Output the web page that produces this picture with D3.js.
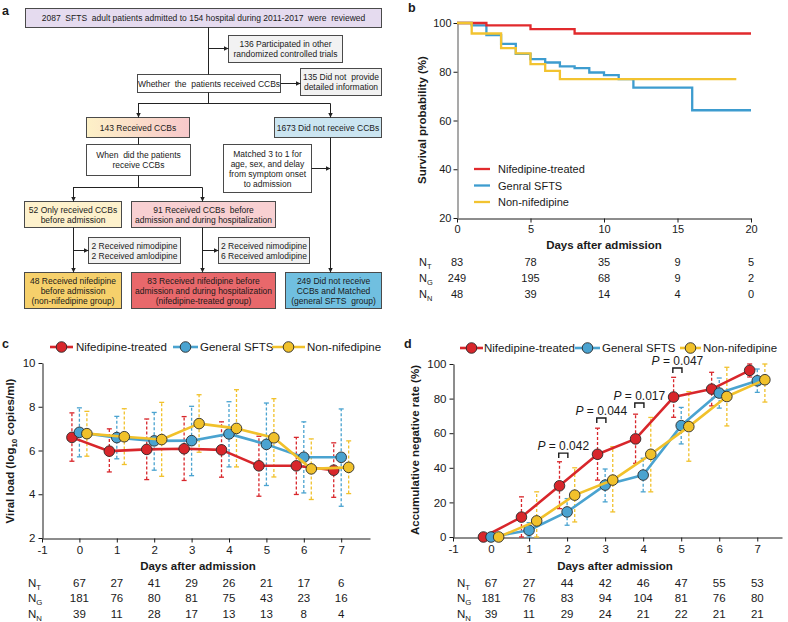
<!DOCTYPE html>
<html><head><meta charset="utf-8">
<script src="https://cdn.jsdelivr.net/npm/d3@7"></script>
<style>
body{margin:0;background:#fff}
svg{display:block}
text{font-family:"Liberation Sans",Arial,Helvetica,sans-serif;fill:#1a1a1a}
</style>
</head><body>
<svg id="fig" width="788" height="622"></svg>
<script>
// ================= DATA =================
const seriesNames = ["Nifedipine-treated", "General SFTS", "Non-nifedipine"];
const seriesNamesB = ["Nifedipine-treated", "Genral SFTS", "Non-nifedipine"];

// Panel b : Kaplan-Meier survival (%)
const kmTimesT = [0, 2, 5, 8, 20];
const kmSurvT  = [100, 99, 97.5, 95.7, 95.7];
const kmTimesG = [0, 1, 2, 3, 4, 5, 6, 7, 8, 9, 10, 11, 12, 16, 20];
const kmSurvG  = [100, 99, 95, 91.4, 87.3, 85.2, 83.8, 82.2, 81.5, 79.7, 78.6, 77, 73.5, 64.2, 64.2];
const kmTimesN = [0, 1, 3, 4, 5, 6, 7, 19];
const kmSurvN  = [100, 95.7, 89.7, 87.5, 83.1, 80.4, 77, 77];
const riskDaysB = [0, 5, 10, 15, 20];
const riskB_T = [83, 78, 35, 9, 5];
const riskB_G = [249, 195, 68, 9, 2];
const riskB_N = [48, 39, 14, 4, 0];

// Panel c : viral load (log10 copies/ml)
const days = [0, 1, 2, 3, 4, 5, 6, 7];
const vlT   = [6.60, 5.97, 6.05, 6.08, 6.03, 5.30, 5.30, 5.10];
const vlTlo = [5.51, 5.02, 4.67, 4.63, 4.78, 3.91, 3.99, 3.86];
const vlThi = [7.72, 6.99, 7.44, 7.55, 7.31, 6.65, 6.60, 6.35];
const vlG   = [6.83, 6.59, 6.44, 6.45, 6.76, 6.28, 5.69, 5.69];
const vlGlo = [5.71, 5.62, 5.10, 4.85, 5.25, 4.40, 4.06, 3.45];
const vlGhi = [7.95, 7.56, 7.74, 8.02, 8.23, 8.17, 7.31, 7.90];
const vlN   = [6.77, 6.63, 6.50, 7.23, 7.01, 6.58, 5.16, 5.23];
const vlNlo = [5.74, 5.36, 4.82, 5.92, 5.25, 4.79, 3.76, 4.03];
const vlNhi = [7.79, 7.91, 8.20, 8.55, 8.78, 8.37, 6.53, 6.44];
const riskC_T = [67, 27, 41, 29, 26, 21, 17, 6];
const riskC_G = [181, 76, 80, 81, 75, 43, 23, 16];
const riskC_N = [39, 11, 28, 17, 13, 13, 8, 4];

// Panel d : accumulative negative rate (%)
const negT   = [0, 11.5, 29.6, 47.8, 56.7, 80.9, 85.5, 96.3];
const negTlo = [0, 0, 16.4, 32.9, 42.6, 69.2, 75.8, 92.5];
const negThi = [0, 23.2, 43.5, 62.9, 71.0, 92.3, 95.2, 100];
const negG   = [0, 3.9, 14.5, 30.0, 35.8, 64.4, 83.2, 90.3];
const negGlo = [0, 0, 6.8, 20.3, 26.1, 53.8, 74.5, 83.6];
const negGhi = [0, 8.3, 22.2, 39.3, 45.5, 74.9, 91.9, 97.1];
const negN   = [0, 9.3, 24.2, 32.9, 47.8, 63.8, 81.2, 90.9];
const negNlo = [0, 0, 8.7, 14.5, 26.1, 43.8, 64.2, 78.0];
const negNhi = [0, 26.1, 40.0, 52.2, 69.1, 84.0, 98.1, 100];
const riskD_T = [67, 27, 44, 42, 46, 47, 55, 53];
const riskD_G = [181, 76, 83, 94, 104, 81, 76, 80];
const riskD_N = [39, 11, 29, 24, 21, 22, 21, 21];
const pDays   = [2, 3, 4, 5];
const pValues = ["0.042", "0.044", "0.017", "0.047"];
const pLevel  = [48.5, 68.8, 77.5, 97.7];

// Panel a : flowchart texts
const flowTexts = [
  ["2087  SFTS  adult patients admitted to 154 hospital during 2011-2017  were  reviewed"],
  ["136 Participated in other", "randomized controlled trials"],
  ["Whether  the  patients received CCBs"],
  ["135 Did not  provide", "detailed information"],
  ["143 Received CCBs"],
  ["1673 Did not receive CCBs"],
  ["When  did the patients", "receive CCBs"],
  ["Matched 3 to 1 for", "age, sex, and delay", "from symptom onset", "to admission"],
  ["52 Only received CCBs", "before admission"],
  ["91 Received CCBs  before", "admission and during hospitalization"],
  ["2 Received nimodipine", "2 Received amlodipine"],
  ["2 Received nimodipine", "6 Received amlodipine"],
  ["48 Received nifedipine", "before admission", "(non-nifedipine group)"],
  ["83 Received nifedipine before", "admission and during hospitalization", "(nifedipine-treated group)"],
  ["249 Did not receive", "CCBs and Matched", "(general SFTS  group)"]
];

// ================= STYLE =================
const COL = ["#d8262b", "#4aa3d0", "#f1c12b"];
const COLB = ["#e12a2d", "#3d9ccf", "#f2c330"];
const svg = d3.select("#fig");
const defs = svg.append("defs");

defs.append("marker").attr("id", "arr").attr("viewBox", "0 0 10 10")
  .attr("refX", 10).attr("refY", 5).attr("markerWidth", 5).attr("markerHeight", 5)
  .attr("markerUnits", "userSpaceOnUse").attr("orient", "auto")
  .append("path").attr("d", "M0,0L10,5L0,10Z").attr("fill", "#222");

const grad = defs.append("linearGradient").attr("id", "g143");
grad.append("stop").attr("offset", "0%").attr("stop-color", "#fdf1c7");
grad.append("stop").attr("offset", "100%").attr("stop-color", "#f8c8cb");

function panelLabel(x, y, t) {
  svg.append("text").attr("x", x).attr("y", y).attr("font-size", 12.5)
    .attr("font-weight", "bold").text(t);
}
panelLabel(2, 15, "a"); panelLabel(408, 12, "b"); panelLabel(2, 348, "c"); panelLabel(404, 348, "d");

// ================= PANEL A (flowchart) =================
const fa = svg.append("g").attr("font-size", 8.5);
const boxLayout = [
  [25, 8, 356, 19, "#e5dbef"],
  [228, 35, 114, 27, "#f2f2f2"],
  [137, 74, 143, 18, "#ffffff"],
  [300, 68, 81, 27, "#f2f2f2"],
  [86, 117, 103, 20, "url(#g143)"],
  [274, 117, 107, 20, "#cbe5f1"],
  [86, 144, 104, 31, "#ffffff"],
  [223, 144, 88, 48, "#ffffff"],
  [24, 201, 97, 26, "#fdf1cc"],
  [131, 201, 144, 26, "#f8d0d2"],
  [88, 237, 92, 26, "#f2f2f2"],
  [218, 237, 91, 26, "#f2f2f2"],
  [24, 272, 97, 36, "#f6d06b"],
  [131, 272, 144, 36, "#e8686b"],
  [285, 272, 96, 36, "#70bfe0"]
];
boxLayout.forEach((b, i) => {
  const [x, y, w, h, fill] = b;
  fa.append("rect").attr("x", x + 0.5).attr("y", y + 0.5).attr("width", w).attr("height", h)
    .attr("fill", fill).attr("stroke", "#4a4a4a").attr("stroke-width", 1);
  const lines = flowTexts[i];
  const lh = 10;
  const cy = y + h / 2 + 0.5;
  lines.forEach((t, k) => {
    fa.append("text").attr("x", x + w / 2 + 0.5)
      .attr("y", cy + (k - (lines.length - 1) / 2) * lh + 3)
      .attr("text-anchor", "middle").attr("xml:space", "preserve").text(t);
  });
});
function seg(x1, y1, x2, y2, arrow) {
  const l = fa.append("line").attr("x1", x1).attr("y1", y1).attr("x2", x2).attr("y2", y2)
    .attr("stroke", "#222").attr("stroke-width", 1);
  if (arrow) l.attr("marker-end", "url(#arr)");
}
seg(208.5, 27.5, 208.5, 74.5);
seg(208.5, 48.5, 228.5, 48.5, true);
seg(280.5, 83.5, 300.5, 83.5, true);
seg(208.5, 92.5, 208.5, 103.5);
seg(138, 103.5, 330.5, 103.5);
seg(138.5, 103.5, 138.5, 117.5, true);
seg(330.5, 103.5, 330.5, 117.5, true);
seg(138.5, 137.5, 138.5, 144.5);
seg(138.5, 175.5, 138.5, 187.5);
seg(73, 187.5, 202.5, 187.5);
seg(73.5, 187.5, 73.5, 201.5, true);
seg(202.5, 187.5, 202.5, 201.5, true);
seg(73.5, 227.5, 73.5, 272.5, true);
seg(73.5, 250.5, 88.5, 250.5, true);
seg(202.5, 227.5, 202.5, 272.5, true);
seg(202.5, 250.5, 218.5, 250.5, true);
seg(330.5, 137.5, 330.5, 272.5, true);
seg(311.5, 168.5, 330.5, 168.5, true);

// ================= helpers =================
const fmtHyphen = d => String(d);
function styleAxis(g, fs) {
  g.attr("font-family", null).attr("font-size", null);
  g.selectAll("text").attr("font-size", fs).style("fill", "#1a1a1a");
  g.selectAll("line,path").attr("stroke", "#1a1a1a");
}
function riskRow(g, x0, y, letter, xs, vals, fs) {
  const t = g.append("text").attr("x", x0).attr("y", y).attr("font-size", fs);
  t.append("tspan").text("N");
  t.append("tspan").attr("font-size", fs * 0.68).attr("dy", 3).text(letter);
  g.selectAll(null).data(vals).enter().append("text")
    .attr("x", (d, i) => xs[i]).attr("y", y).attr("text-anchor", "middle")
    .attr("font-size", fs).text(d => d);
}

// ================= PANEL B =================
const xB = d3.scaleLinear().domain([0, 20]).range([457, 751]);
const yB = d3.scaleLinear().domain([20, 100]).range([218, 23]);
const gB = svg.append("g");
const axBx = gB.append("g").attr("transform", "translate(0,218.5)")
  .call(d3.axisBottom(xB).tickValues([0, 5, 10, 15, 20]).tickFormat(fmtHyphen).tickSize(4).tickSizeOuter(0).tickPadding(3));
styleAxis(axBx, 11);
const axBy = gB.append("g").attr("transform", "translate(457.5,0)")
  .call(d3.axisLeft(yB).tickValues([20, 40, 60, 80, 100]).tickFormat(fmtHyphen).tickSize(4).tickSizeOuter(0).tickPadding(2));
styleAxis(axBy, 11);
axBy.select(".domain").attr("stroke", "#8c8c8c").attr("stroke-width", 1.5);
gB.append("text").attr("transform", "translate(426,120) rotate(-90)").attr("text-anchor", "middle")
  .attr("font-size", 11.5).attr("font-weight", "bold").text("Survival probability (%)");
gB.append("text").attr("x", 604).attr("y", 249).attr("text-anchor", "middle")
  .attr("font-size", 11.5).attr("font-weight", "bold").text("Days after admission");

const kmLine = d3.line().x(d => xB(d[0])).y(d => yB(d[1])).curve(d3.curveStepAfter);
const kmSets = [
  [kmTimesG, kmSurvG, 1],
  [kmTimesT, kmSurvT, 0],
  [kmTimesN, kmSurvN, 2]
];
kmSets.forEach(([t, s, ci]) => {
  gB.append("path").datum(t.map((v, i) => [v, s[i]])).attr("d", kmLine)
    .attr("fill", "none").attr("stroke", COLB[ci]).attr("stroke-width", 2.3);
});
seriesNamesB.forEach((n, i) => {
  const y = 169 + i * 16.5;
  gB.append("line").attr("x1", 474).attr("x2", 490).attr("y1", y).attr("y2", y)
    .attr("stroke", COLB[i]).attr("stroke-width", 2.3);
  gB.append("text").attr("x", 498).attr("y", y + 4).attr("font-size", 11).text(n);
});
const xsB = riskDaysB.map(d => xB(d));
riskRow(gB, 419, 266, "T", xsB, riskB_T, 11);
riskRow(gB, 419, 282, "G", xsB, riskB_G, 11);
riskRow(gB, 419, 298, "N", xsB, riskB_N, 11);

// ================= line chart helper (c, d) =================
const offsets = [-0.2, 0, 0.2];
function lineChart(g, x, y, vals, los, his) {
  const lg = d3.line().x(d => x(d[0])).y(d => y(d[1]));
  [0, 1, 2].forEach(si => {
    const pts = days.map((d, i) => ({ x: x(d + offsets[si]), lo: y(los[si][i]), hi: y(his[si][i]) }))
      .filter(p => Math.abs(p.lo - p.hi) > 0.5);
    const eg = g.append("g").attr("stroke", COL[si]).attr("stroke-width", 1.3);
    eg.selectAll(".v").data(pts).enter().append("line")
      .attr("x1", p => p.x).attr("x2", p => p.x).attr("y1", p => p.lo).attr("y2", p => p.hi)
      .attr("stroke-dasharray", "3,2");
    eg.selectAll(".c1").data(pts).enter().append("line")
      .attr("x1", p => p.x - 2.5).attr("x2", p => p.x + 2.5).attr("y1", p => p.lo).attr("y2", p => p.lo);
    eg.selectAll(".c2").data(pts).enter().append("line")
      .attr("x1", p => p.x - 2.5).attr("x2", p => p.x + 2.5).attr("y1", p => p.hi).attr("y2", p => p.hi);
  });
  [0, 1, 2].forEach(si => {
    const pts = days.map((d, i) => [d + offsets[si], vals[si][i]]);
    g.append("path").datum(pts).attr("d", lg).attr("fill", "none")
      .attr("stroke", COL[si]).attr("stroke-width", 2.6).attr("stroke-linejoin", "round");
    g.selectAll(null).data(pts).enter().append("circle")
      .attr("cx", d => x(d[0])).attr("cy", d => y(d[1])).attr("r", 5.3)
      .attr("fill", COL[si]).attr("stroke", "#2a2a2a").attr("stroke-width", 0.9);
  });
}
function legend(g, items) {
  items.forEach(([x1, x2, tx], i) => {
    const y = items.y;
    g.append("line").attr("x1", x1).attr("x2", x2).attr("y1", y).attr("y2", y)
      .attr("stroke", COL[i]).attr("stroke-width", 2.6);
    g.append("circle").attr("cx", (x1 + x2) / 2).attr("cy", y).attr("r", 5.3)
      .attr("fill", COL[i]).attr("stroke", "#2a2a2a").attr("stroke-width", 0.9);
    g.append("text").attr("x", tx).attr("y", y + 4).attr("font-size", 11.5).text(seriesNames[i]);
  });
}

// ================= PANEL C =================
const xC = d3.scaleLinear().domain([-1, 7.77]).range([42, 370]);
const yC = d3.scaleLinear().domain([2, 10]).range([538, 363]);
const gC = svg.append("g");
const axCx = gC.append("g").attr("transform", "translate(0,538.5)")
  .call(d3.axisBottom(xC).tickValues([-1, 0, 1, 2, 3, 4, 5, 6, 7]).tickFormat(fmtHyphen).tickSize(4).tickSizeOuter(0).tickPadding(3));
styleAxis(axCx, 11.5);
const axCy = gC.append("g").attr("transform", "translate(42.5,0)")
  .call(d3.axisLeft(yC).tickValues([2, 4, 6, 8, 10]).tickFormat(fmtHyphen).tickSize(4).tickSizeOuter(0).tickPadding(3));
styleAxis(axCy, 11.5);
const ylc = gC.append("text").attr("transform", "translate(14,451) rotate(-90)").attr("text-anchor", "middle")
  .attr("font-size", 11.5).attr("font-weight", "bold");
ylc.append("tspan").text("Viral load (log");
ylc.append("tspan").attr("font-size", 8).attr("dy", 3).text("10");
ylc.append("tspan").attr("dy", -3).text(" copies/ml)");
gC.append("text").attr("x", 198).attr("y", 570).attr("text-anchor", "middle")
  .attr("font-size", 11.5).attr("font-weight", "bold").text("Days after admission");
lineChart(gC, xC, yC, [vlT, vlG, vlN], [vlTlo, vlGlo, vlNlo], [vlThi, vlGhi, vlNhi]);
const legC = [[50, 73, 76], [173, 198, 200], [272, 305, 307]]; legC.y = 347;
legend(gC, legC);
const xsC = days.map(d => xC(d));
riskRow(gC, 28, 587, "T", xsC, riskC_T, 11.5);
riskRow(gC, 28, 602, "G", xsC, riskC_G, 11.5);
riskRow(gC, 28, 618, "N", xsC, riskC_N, 11.5);

// ================= PANEL D =================
const xD = d3.scaleLinear().domain([-1, 7.65]).range([453, 782]);
const yD = d3.scaleLinear().domain([0, 100]).range([537, 364]);
const gD = svg.append("g");
const axDx = gD.append("g").attr("transform", "translate(0,537.5)")
  .call(d3.axisBottom(xD).tickValues([-1, 0, 1, 2, 3, 4, 5, 6, 7]).tickFormat(fmtHyphen).tickSize(4).tickSizeOuter(0).tickPadding(3));
styleAxis(axDx, 11.5);
const axDy = gD.append("g").attr("transform", "translate(453.5,0)")
  .call(d3.axisLeft(yD).tickValues([0, 20, 40, 60, 80, 100]).tickFormat(fmtHyphen).tickSize(4).tickSizeOuter(0).tickPadding(3));
styleAxis(axDy, 11.5);
gD.append("text").attr("transform", "translate(419,450) rotate(-90)").attr("text-anchor", "middle")
  .attr("font-size", 11.5).attr("font-weight", "bold").text("Accumulative negative rate (%)");
gD.append("text").attr("x", 615).attr("y", 570).attr("text-anchor", "middle")
  .attr("font-size", 11.5).attr("font-weight", "bold").text("Days after admission");
lineChart(gD, xD, yD, [negT, negG, negN], [negTlo, negGlo, negNlo], [negThi, negGhi, negNhi]);
const legD = [[460, 483, 484], [575, 600, 602], [680, 701, 703]]; legD.y = 348;
legend(gD, legD);
pDays.forEach((d, i) => {
  const x1 = xD(d - 0.22), x2 = xD(d + 0.02), yy = yD(pLevel[i]);
  gD.append("path").attr("d", `M${x1},${yy + 5}V${yy}H${x2}V${yy + 5}`)
    .attr("fill", "none").attr("stroke", "#1a1a1a").attr("stroke-width", 1.4);
  const t = gD.append("text").attr("x", (x1 + x2) / 2).attr("y", yy - 3)
    .attr("text-anchor", "middle").attr("font-size", 12).attr("xml:space", "preserve");
  t.append("tspan").attr("font-style", "italic").text("P");
  t.append("tspan").text(" = " + pValues[i]);
});
const xsD = days.map(d => xD(d));
riskRow(gD, 457, 587, "T", xsD, riskD_T, 11.5);
riskRow(gD, 457, 602, "G", xsD, riskD_G, 11.5);
riskRow(gD, 457, 618, "N", xsD, riskD_N, 11.5);
</script>
</body></html>
